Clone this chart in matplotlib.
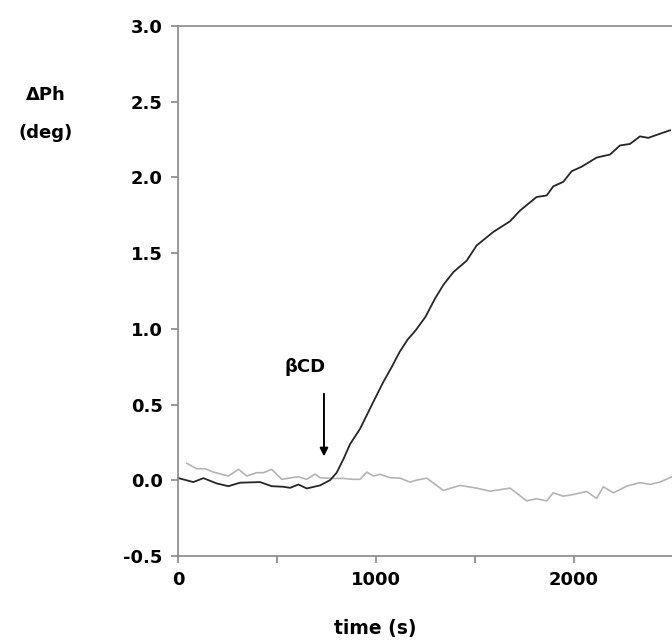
import numpy as np
import matplotlib
matplotlib.use("Agg")
import matplotlib.pyplot as plt

plt.rcParams["font.family"] = ["DejaVu Sans"]
plt.rcParams["font.weight"] = "bold"
plt.rcParams["axes.unicode_minus"] = False

# black trace (beta-CD injected)
time_bcd = [2, 77, 128, 195, 254, 313, 414, 473, 532, 566, 608, 650, 717, 768, 801,
            835, 869, 919, 953, 987, 1037, 1080, 1120, 1160, 1200, 1250, 1298, 1340,
            1391, 1458, 1508, 1593, 1677, 1727, 1811, 1862, 1895, 1946, 1988, 2039,
            2114, 2182, 2232, 2283, 2333, 2375, 2418, 2485]
dph_bcd = [0.015, -0.011, 0.015, -0.02, -0.038, -0.015, -0.011, -0.038, -0.042, -0.049,
           -0.027, -0.053, -0.033, 0.002, 0.051, 0.14, 0.24, 0.34, 0.43, 0.52, 0.65,
           0.75, 0.85, 0.93, 0.99, 1.08, 1.20, 1.29, 1.375, 1.45, 1.55, 1.64, 1.71,
           1.78, 1.87, 1.88, 1.94, 1.97, 2.04, 2.07, 2.13, 2.15, 2.21, 2.22, 2.27,
           2.26, 2.28, 2.31]

# grey trace (control)
time_ctrl = [44, 94, 136, 179, 221, 254, 305, 347, 397, 431, 473, 524, 574, 608, 650,
             692, 717, 776, 835, 886, 919, 953, 987, 1020, 1071, 1121, 1172, 1205, 1256,
             1340, 1424, 1508, 1576, 1677, 1761, 1811, 1862, 1895, 1946, 1997, 2064,
             2114, 2148, 2199, 2266, 2333, 2384, 2434, 2495]
dph_ctrl = [0.113, 0.077, 0.077, 0.055, 0.040, 0.029, 0.073, 0.029, 0.051, 0.051, 0.073,
            0.007, 0.018, 0.024, 0.007, 0.042, 0.018, 0.013, 0.013, 0.007, 0.007, 0.055,
            0.029, 0.040, 0.018, 0.015, -0.011, 0.002, 0.015, -0.066, -0.033, -0.051,
            -0.071, -0.051, -0.135, -0.121, -0.135, -0.082, -0.104, -0.093, -0.073,
            -0.119, -0.042, -0.082, -0.038, -0.015, -0.026, -0.011, 0.024]

y_ticks = [-0.5, 0.0, 0.5, 1.0, 1.5, 2.0, 2.5, 3.0]
x_ticks = [0, 1000, 2000]
x_minor = [500, 1500]

fig = plt.figure(figsize=(6.72, 6.43), dpi=100)
ax = fig.add_axes([0.265, 0.135, 0.735, 0.825])

ax.plot(time_ctrl, dph_ctrl, color="#b4b4b4", linewidth=1.2)
ax.plot(time_bcd, dph_bcd, color="#262626", linewidth=1.3)

ax.set_xlim(0, 2495)
ax.set_ylim(-0.5, 3.0)
ax.set_yticks(y_ticks)
ax.set_yticklabels([f"{v:.1f}" for v in y_ticks])
ax.set_xticks(x_ticks)
ax.set_xticks(x_minor, minor=True)

for side in ["left", "top", "bottom"]:
    ax.spines[side].set_color("#888888")
    ax.spines[side].set_linewidth(1.2)
ax.spines["right"].set_visible(False)

ax.tick_params(axis="both", which="both", color="#888888", length=5, width=1.2,
               labelsize=13, pad=6)
for lbl in ax.get_xticklabels() + ax.get_yticklabels():
    lbl.set_fontweight("heavy")

ax.annotate("", xy=(737, 0.14), xytext=(737, 0.59),
            arrowprops=dict(arrowstyle="-|>", color="black", lw=1.4, mutation_scale=12))
ax.text(640, 0.75, "βCD", fontsize=13, fontweight="heavy", ha="center", va="center")

fig.text(0.068, 0.852, "ΔPh", fontsize=13, fontweight="heavy", ha="center", va="center")
fig.text(0.068, 0.793, "(deg)", fontsize=13, fontweight="heavy", ha="center", va="center")
fig.text(0.558, 0.023, "time (s)", fontsize=13.5, fontweight="heavy", ha="center", va="center")

fig.savefig("out.png", dpi=100)
